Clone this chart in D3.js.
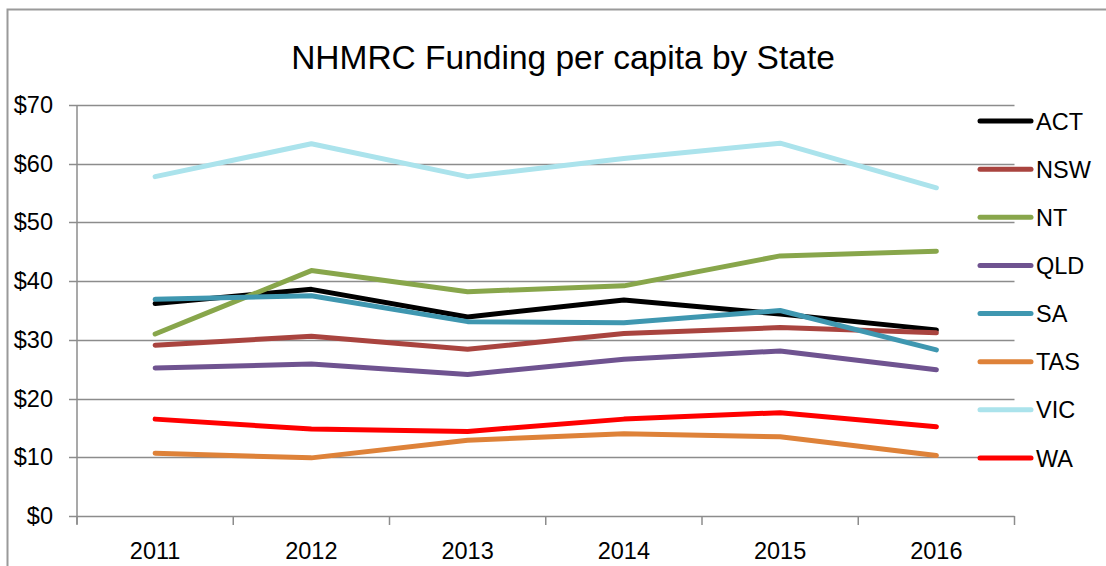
<!DOCTYPE html>
<html>
<head>
<meta charset="utf-8">
<script src="https://cdn.jsdelivr.net/npm/d3@7"></script>
<style>
  html, body { margin: 0; padding: 0; background: #fff; }
  svg { display: block; font-family: "Liberation Sans", Arial, sans-serif; }
</style>
</head>
<body>
<svg id="chart" width="1106" height="566"></svg>
<script>
const years = ["2011", "2012", "2013", "2014", "2015", "2016"];
const states = ["ACT", "NSW", "NT", "QLD", "SA", "TAS", "VIC", "WA"];
const colors = ["#000000", "#A9443F", "#88A64B", "#6F5390", "#3F97B0", "#DE8239", "#ABE3EC", "#FF0000"];
const yTicks = [0, 10, 20, 30, 40, 50, 60, 70];

const ACT = [36.2, 38.6, 33.9, 36.8, 34.4, 31.7];
const NSW = [29.1, 30.6, 28.4, 31.1, 32.1, 31.2];
const NT  = [31.0, 41.8, 38.2, 39.2, 44.3, 45.1];
const QLD = [25.2, 25.9, 24.1, 26.7, 28.1, 24.9];
const SA  = [36.9, 37.5, 33.1, 32.9, 35.0, 28.3];
const TAS = [10.7, 9.9, 12.9, 14.0, 13.5, 10.3];
const VIC = [57.8, 63.4, 57.8, 60.9, 63.5, 55.9];
const WA  = [16.5, 14.8, 14.4, 16.5, 17.6, 15.2];
const seriesValues = [ACT, NSW, NT, QLD, SA, TAS, VIC, WA];

(function () {
const svg = d3.select("#chart");

// outer frame (partial, like the cropped screenshot)
svg.append("path")
  .attr("d", "M7.5,566 L7.5,9.5 L1106,9.5")
  .attr("fill", "none").attr("stroke", "#9a9a9a").attr("stroke-width", 2);

const pL = 77, pR = 1014.5, pT = 105, pB = 516;

const x = d3.scaleBand().domain(years).range([pL, pR]);
const y = d3.scaleLinear().domain([0, 70]).range([pB, pT]);

// title
svg.append("text")
  .attr("x", 563).attr("y", 69)
  .attr("text-anchor", "middle")
  .attr("font-size", 33.5)
  .attr("fill", "#000")
  .text("NHMRC Funding per capita by State");

// gridlines
const gridCol = "#8c8c8c";
svg.append("g").selectAll("line").data(yTicks.filter(d => d > 0)).join("line")
  .attr("x1", pL).attr("x2", pR)
  .attr("y1", d => Math.round(y(d)) + 0.5).attr("y2", d => Math.round(y(d)) + 0.5)
  .attr("stroke", gridCol).attr("stroke-width", 1.5);

// y axis
const yAxis = d3.axisLeft(y).tickValues(yTicks).tickSize(8).tickPadding(16)
  .tickFormat(d => "$" + d);
const gy = svg.append("g").attr("transform", `translate(${pL},0)`).call(yAxis);
gy.select(".domain").attr("stroke", gridCol).attr("stroke-width", 1.5)
  .attr("d", `M0,${pT}V${pB + 8}`);
gy.selectAll(".tick line").attr("stroke", gridCol).attr("stroke-width", 1.5);
gy.selectAll(".tick").attr("transform", d => `translate(0,${Math.round(y(d)) + 0.5})`);
gy.selectAll(".tick text").attr("font-size", 23.5).attr("fill", "#000")
  .attr("font-family", "Liberation Sans, Arial, sans-serif");

// x axis
const boundaries = years.map(d => x(d)).concat([pR]);
const gx = svg.append("g").attr("transform", `translate(0,${pB})`);
gx.append("line").attr("x1", pL).attr("x2", pR).attr("y1", 0.5).attr("y2", 0.5)
  .attr("stroke", gridCol).attr("stroke-width", 1.5);
gx.selectAll("line.tk").data(boundaries).join("line").attr("class", "tk")
  .attr("x1", d => d).attr("x2", d => d).attr("y1", 0).attr("y2", 9)
  .attr("stroke", gridCol).attr("stroke-width", 1.5);
gx.selectAll("text").data(years).join("text")
  .attr("x", d => x(d) + x.bandwidth() / 2)
  .attr("y", 43)
  .attr("text-anchor", "middle")
  .attr("font-size", 23.5)
  .attr("fill", "#000")
  .text(d => d);

// lines
const line = d3.line()
  .x((d, i) => x(years[i]) + x.bandwidth() / 2)
  .y(d => y(d));

svg.append("g").selectAll("path").data(seriesValues).join("path")
  .attr("d", d => line(d))
  .attr("fill", "none")
  .attr("stroke", (d, i) => colors[i])
  .attr("stroke-width", 5)
  .attr("stroke-linejoin", "round")
  .attr("stroke-linecap", "round");

// legend
const lg = svg.append("g");
const legendY = d3.scalePoint().domain(states).range([121, 458]);
const items = lg.selectAll("g").data(states).join("g")
  .attr("transform", d => `translate(0,${legendY(d)})`);
items.append("line")
  .attr("x1", 980).attr("x2", 1031).attr("y1", 0).attr("y2", 0)
  .attr("stroke", (d, i) => colors[i]).attr("stroke-width", 5)
  .attr("stroke-linecap", "round");
items.append("text")
  .attr("x", 1036).attr("y", 8.5)
  .attr("font-size", 23.5).attr("fill", "#000")
  .text(d => d);
})();
</script>
</body>
</html>
